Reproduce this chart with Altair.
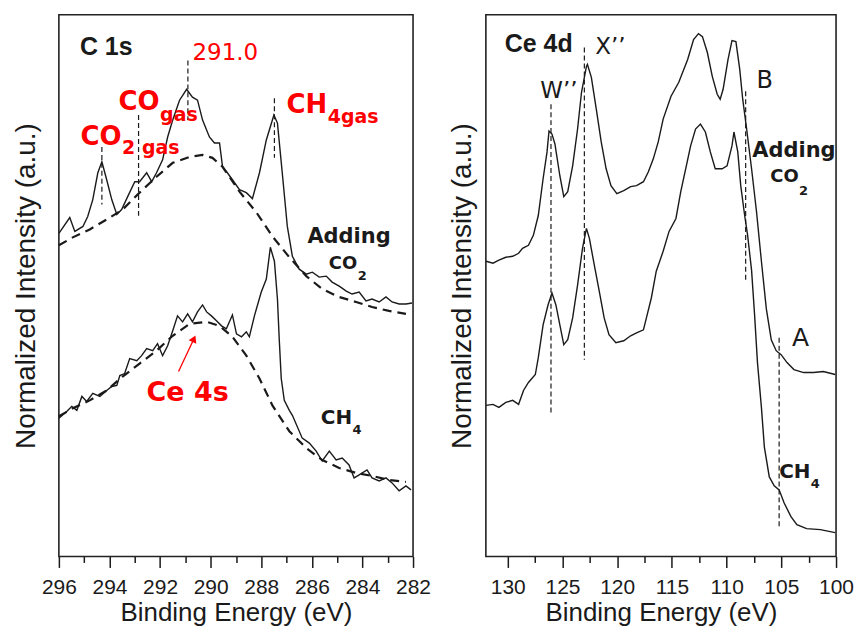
import altair as alt
import pandas as pd

# ---------------- C 1s panel (binding energy eV, normalized intensity a.u.) ----------------
c1s_co2_E = [296.00, 295.57, 295.37, 295.05, 294.86, 294.66, 294.46, 294.30, 294.11, 293.91,
             293.71, 293.52, 293.28, 293.00, 292.81, 292.53, 292.33, 292.14, 291.90, 291.70,
             291.50, 291.23, 290.95, 290.72, 290.52, 290.32, 290.05, 289.85, 289.65, 289.53,
             289.34, 289.14, 288.86, 288.59, 288.35, 288.07, 287.80, 287.50, 287.36, 287.17,
             286.97, 286.77, 286.50, 286.22, 285.98, 285.71, 285.43, 285.20, 284.92, 284.64,
             284.41, 284.13, 283.86, 283.62, 283.34, 283.07, 282.83, 282.55, 282.28, 282.04]
c1s_co2_I = [325, 341, 327, 332, 342, 359, 386, 397, 379, 359,
             344, 349, 362, 377, 377, 386, 377, 386, 399, 422,
             439, 459, 470, 462, 459, 439, 422, 416, 416, 392,
             386, 379, 369, 366, 360, 386, 419, 444, 436, 386,
             332, 302, 289, 284, 286, 281, 282, 276, 272, 267,
             264, 266, 257, 259, 256, 261, 256, 254, 254, 255]

c1s_co2_bg_E = [296.00, 295.45, 294.78, 294.11, 293.48, 292.81, 292.14, 291.50, 290.83, 290.32,
                289.93, 289.53, 288.86, 288.19, 287.56, 286.89, 286.22, 285.59, 284.92, 284.25,
                283.62, 282.95, 282.28]
c1s_co2_bg_I = [313, 321, 329, 339, 349, 366, 382, 396, 402, 404,
                401, 392, 367, 346, 322, 301, 282, 269, 261, 256,
                251, 247, 244]

c1s_ch4_E = [296.00, 295.68, 295.49, 295.29, 295.09, 294.90, 294.66, 294.38, 294.11, 293.91,
             293.71, 293.59, 293.40, 293.20, 292.92, 292.73, 292.53, 292.29, 292.10, 291.90,
             291.70, 291.50, 291.31, 291.11, 290.91, 290.72, 290.52, 290.32, 290.16, 289.97,
             289.77, 289.57, 289.38, 289.14, 288.98, 288.78, 288.59, 288.47, 288.27, 288.00,
             287.80, 287.64, 287.48, 287.36, 287.29, 287.21, 287.09, 286.89, 286.77, 286.38,
             286.10, 285.83, 285.59, 285.31, 285.04, 284.80, 284.53, 284.33, 284.13, 283.82,
             283.62, 283.34, 283.07, 282.83, 282.55, 282.28, 282.08]
c1s_ch4_I = [139, 146, 151, 147, 161, 156, 164, 161, 167, 171,
             172, 182, 184, 199, 197, 202, 209, 207, 214, 202,
             212, 227, 242, 236, 244, 236, 246, 253, 246, 242,
             237, 232, 229, 243, 224, 221, 226, 221, 242, 266,
             279, 311, 297, 259, 219, 179, 157, 147, 142, 119,
             114, 106, 96, 106, 97, 99, 92, 79, 82, 87,
             79, 76, 79, 74, 66, 71, 67]

c1s_ch4_bg_E = [296.00, 295.45, 294.78, 294.11, 293.48, 292.81, 292.14, 291.50, 290.83, 290.16,
                289.65, 289.14, 288.59, 288.07, 287.56, 286.89, 286.22, 285.59, 284.92, 284.25,
                283.62, 282.95, 282.28]
c1s_ch4_bg_I = [141, 149, 157, 167, 181, 194, 207, 222, 234, 236,
                232, 221, 202, 179, 152, 126, 109, 97, 89, 84,
                81, 77, 75]

c1s_ticks = [296, 295, 294, 293, 292, 291, 290, 289, 288, 287, 286, 285, 284, 283, 282]

# peak marker lines (E, top, bottom)
c1s_mark_E = [294.3, 292.85, 290.9, 287.48]
c1s_mark_top = [412, 444, 499, 461]
c1s_mark_bot = [354, 342, 439, 401]

# ---------------- Ce 4d panel ----------------
ce_co2_E = [131.98, 131.35, 130.81, 130.18, 129.55, 129.01, 128.65, 128.11, 127.66, 127.21,
            126.77, 126.41, 126.23, 125.96, 125.69, 125.24, 124.88, 124.52, 124.07, 123.62,
            123.26, 122.81, 122.72, 122.36, 121.91, 121.46, 121.01, 120.57, 120.03, 119.40,
            118.77, 118.23, 117.60, 117.15, 116.70, 116.25, 115.80, 115.08, 114.37, 113.56,
            113.02, 112.57, 112.21, 111.76, 111.31, 110.86, 110.59, 110.32, 109.87, 109.51,
            109.15, 108.80, 108.53, 108.17, 107.72, 107.27, 106.82, 106.37, 105.92, 105.47,
            105.02, 104.48, 103.85, 102.96, 102.06, 101.16, 100.08]
ce_co2_I = [297, 295, 298, 301, 302, 305, 310, 313, 323, 343,
            380, 407, 428, 425, 415, 383, 362, 367, 393, 430,
            467, 493, 495, 482, 450, 417, 390, 373, 365, 368,
            372, 373, 377, 387, 400, 417, 440, 463, 477, 500,
            520, 526, 523, 507, 483, 465, 460, 470, 500, 519,
            518, 490, 460, 430, 390, 347, 297, 249, 218, 207,
            203, 195, 188, 185, 185, 186, 183]

ce_ch4_E = [131.98, 131.35, 130.81, 130.18, 129.55, 129.01, 128.56, 128.11, 127.48, 127.21,
            126.77, 126.32, 125.96, 125.60, 125.24, 124.88, 124.52, 124.07, 123.62, 123.17,
            122.81, 122.54, 122.09, 121.64, 121.19, 120.75, 120.12, 119.40, 118.77, 118.23,
            117.60, 117.33, 116.88, 116.43, 115.80, 115.26, 114.63, 114.19, 113.74, 113.29,
            112.84, 112.39, 111.94, 111.49, 111.04, 110.41, 109.96, 109.51, 109.33, 108.98,
            108.71, 108.35, 108.08, 107.72, 107.45, 107.18, 106.82, 106.55, 106.10, 105.65,
            105.20, 104.75, 104.12, 103.58, 102.69, 101.43, 100.08]
ce_ch4_I = [152, 153, 150, 155, 157, 153, 167, 175, 183, 200,
            233, 253, 265, 253, 233, 213, 218, 240, 273, 310,
            330, 320, 293, 267, 240, 223, 215, 217, 222, 225,
            228, 240, 260, 287, 307, 327, 340, 367, 390, 413,
            430, 435, 427, 407, 390, 390, 393, 413, 427, 407,
            373, 343, 323, 288, 244, 195, 150, 110, 80, 71,
            67, 54, 40, 32, 28, 27, 24]

ce_ticks = [130, 127.5, 125, 122.5, 120, 117.5, 115, 112.5, 110, 107.5, 105, 102.5, 100]

ce_mark_E = [126.05, 123.0, 108.26, 105.2]
ce_mark_top = [455, 512, 468, 220]
ce_mark_bot = [142, 198, 277, 28]

# ---------------- annotation texts ----------------
RED = "#ff0000"
BLK = "#1a1a1a"

c1s_title_txt, c1s_title_E, c1s_title_I = ["C 1s"], [295.17], [512]
c1s_thin_txt, c1s_thin_E, c1s_thin_I, c1s_thin_s = ["291.0"], [290.72], [506], [23]
c1s_main_txt = ["CO", "CO", "CH", "CO", "CH"]
c1s_main_E = [292.02, 293.52, 285.39, 284.21, 284.41]
c1s_main_I = [457, 422, 454, 294, 139]
c1s_main_s = [26, 26, 26, 18, 20]
c1s_main_c = [RED, RED, RED, BLK, BLK]
c1s_sub_txt = ["gas", "2 gas", "4gas", "2", "4"]
c1s_sub_E = [292.0, 293.5, 285.37, 284.19, 284.39]
c1s_sub_I = [444, 411, 442, 282, 127]
c1s_sub_s = [19, 19, 19, 13, 13]
c1s_sub_c = [RED, RED, RED, BLK, BLK]
c1s_ctr_txt = ["Ce 4s", "Adding"]
c1s_ctr_E = [290.91, 284.53]
c1s_ctr_I = [164, 321]
c1s_ctr_s = [27, 21]
c1s_ctr_c = [RED, BLK]
arrow_E, arrow_E2, arrow_I, arrow_I2 = [291.27], [290.66], [186], [219]

ce_title_txt, ce_title_E, ce_title_I = ["Ce 4d"], [130.27], [516]
ce_thin_txt = ["X’’", "W’’", "B", "A"]
ce_thin_E = [122.0, 127.03, 107.27, 104.03]
ce_thin_I = [513, 468, 478, 220]
ce_thin_s = [23, 23, 24, 25]
ce_main_txt, ce_main_E, ce_main_I, ce_main_s = ["CO", "CH"], [103.41, 102.33], [382, 85], [18, 20]
ce_sub_txt, ce_sub_E, ce_sub_I, ce_sub_s = ["2", "4"], [103.39, 102.31], [368, 73], [13, 13]
ce_ctr_txt, ce_ctr_E, ce_ctr_I, ce_ctr_s = ["Adding"], [103.85], [408], [21]

AX_FONT = "Liberation Sans"
ANN_FONT = "DejaVu Sans"


def x_axis(values, step):
    test = f"datum.value % {step} === 0"
    return alt.Axis(
        values=values, title="Binding Energy (eV)", grid=False, domain=False,
        labelExpr=f"{test} ? format(datum.value, 'd') : ''",
        tickSize={"condition": {"test": test, "value": 11}, "value": 6},
        tickColor=BLK, tickWidth=1.5, labelFont=AX_FONT, labelFontSize=21,
        labelColor=BLK, labelPadding=9, labelOverlap=False, labelFlush=False,
        titleFont=AX_FONT, titleFontSize=26, titleFontWeight="normal",
        titleColor=BLK, titlePadding=2)


def y_axis(pad):
    return alt.Axis(title="Normalized Intensity (a.u.)", labels=False, ticks=False,
                    domain=False, grid=False, titleFont=AX_FONT, titleFontSize=28,
                    titleFontWeight="normal", titleColor=BLK, titlePadding=pad)


def curves_df(pairs):
    frames = []
    for name, E, I in pairs:
        frames.append(pd.DataFrame({"E": E, "I": I, "series": name}))
    return pd.concat(frames, ignore_index=True)


def text_layer(xs, ys, txt, E, I, sizes, colors, align, font, weight):
    df = pd.DataFrame({"t": txt, "E": E, "I": I, "s": sizes, "c": colors})
    return alt.Chart(df).mark_text(align=align, baseline="middle", font=font,
                                   fontWeight=weight).encode(
        x=alt.X("E:Q", scale=xs, axis=None),
        y=alt.Y("I:Q", scale=ys, axis=None),
        text="t:N",
        size=alt.Size("s:Q", scale=None),
        color=alt.Color("c:N", scale=None))


def marker_layer(xs, ys, E, top, bot):
    df = pd.DataFrame({"E": E, "top": top, "bot": bot})
    return alt.Chart(df).mark_rule(color=BLK, strokeWidth=1.2, strokeDash=[5, 3]).encode(
        x=alt.X("E:Q", scale=xs, axis=None),
        y=alt.Y("top:Q", scale=ys, axis=None),
        y2="bot:Q")


# ---------------- left panel ----------------
xs1 = alt.Scale(domain=[296, 282], nice=False, zero=False)
ys1 = alt.Scale(domain=[0, 545], nice=False, zero=False)

c1s_lines = alt.Chart(curves_df([("co2", c1s_co2_E, c1s_co2_I),
                                 ("ch4", c1s_ch4_E, c1s_ch4_I)])).mark_line(
    color=BLK, strokeWidth=1.4).encode(
    x=alt.X("E:Q", scale=xs1, axis=x_axis(c1s_ticks, 2)),
    y=alt.Y("I:Q", scale=ys1, axis=y_axis(18)),
    detail="series:N")

c1s_bg = alt.Chart(curves_df([("co2bg", c1s_co2_bg_E, c1s_co2_bg_I),
                              ("ch4bg", c1s_ch4_bg_E, c1s_ch4_bg_I)])).mark_line(
    color=BLK, strokeWidth=2.2, strokeDash=[9, 6]).encode(
    x=alt.X("E:Q", scale=xs1, axis=None),
    y=alt.Y("I:Q", scale=ys1, axis=None),
    detail="series:N")

arrow_df = pd.DataFrame({"E": arrow_E, "E2": arrow_E2, "I": arrow_I, "I2": arrow_I2})
arrow_shaft = alt.Chart(arrow_df).mark_rule(color=RED, strokeWidth=1.3).encode(
    x=alt.X("E:Q", scale=xs1, axis=None), x2="E2:Q",
    y=alt.Y("I:Q", scale=ys1, axis=None), y2="I2:Q")
arrow_head = alt.Chart(arrow_df).mark_point(shape="triangle-up", filled=True, size=70,
                                            angle=24, color=RED, opacity=1).encode(
    x=alt.X("E2:Q", scale=xs1, axis=None),
    y=alt.Y("I2:Q", scale=ys1, axis=None))

left = alt.layer(
    c1s_lines, c1s_bg,
    marker_layer(xs1, ys1, c1s_mark_E, c1s_mark_top, c1s_mark_bot),
    arrow_shaft, arrow_head,
    text_layer(xs1, ys1, c1s_title_txt, c1s_title_E, c1s_title_I, [25], [BLK], "left", AX_FONT, "bold"),
    text_layer(xs1, ys1, c1s_thin_txt, c1s_thin_E, c1s_thin_I, c1s_thin_s, [RED], "left", ANN_FONT, "normal"),
    text_layer(xs1, ys1, c1s_main_txt, c1s_main_E, c1s_main_I, c1s_main_s, c1s_main_c, "right", ANN_FONT, "bold"),
    text_layer(xs1, ys1, c1s_sub_txt, c1s_sub_E, c1s_sub_I, c1s_sub_s, c1s_sub_c, "left", ANN_FONT, "bold"),
    text_layer(xs1, ys1, c1s_ctr_txt, c1s_ctr_E, c1s_ctr_I, c1s_ctr_s, c1s_ctr_c, "center", ANN_FONT, "bold"),
).resolve_axis(x="independent", y="independent").properties(width=355, height=543)

# ---------------- right panel ----------------
xs2 = alt.Scale(domain=[132, 100], nice=False, zero=False)
ys2 = alt.Scale(domain=[0, 545], nice=False, zero=False)

ce_lines = alt.Chart(curves_df([("co2", ce_co2_E, ce_co2_I),
                                ("ch4", ce_ch4_E, ce_ch4_I)])).mark_line(
    color=BLK, strokeWidth=1.4).encode(
    x=alt.X("E:Q", scale=xs2, axis=x_axis(ce_ticks, 5)),
    y=alt.Y("I:Q", scale=ys2, axis=y_axis(9)),
    detail="series:N")

right = alt.layer(
    ce_lines,
    marker_layer(xs2, ys2, ce_mark_E, ce_mark_top, ce_mark_bot),
    text_layer(xs2, ys2, ce_title_txt, ce_title_E, ce_title_I, [25], [BLK], "left", AX_FONT, "bold"),
    text_layer(xs2, ys2, ce_thin_txt, ce_thin_E, ce_thin_I, ce_thin_s, [BLK] * 4, "left", ANN_FONT, "normal"),
    text_layer(xs2, ys2, ce_main_txt, ce_main_E, ce_main_I, ce_main_s, [BLK] * 2, "right", ANN_FONT, "bold"),
    text_layer(xs2, ys2, ce_sub_txt, ce_sub_E, ce_sub_I, ce_sub_s, [BLK] * 2, "left", ANN_FONT, "bold"),
    text_layer(xs2, ys2, ce_ctr_txt, ce_ctr_E, ce_ctr_I, ce_ctr_s, [BLK], "center", ANN_FONT, "bold"),
).resolve_axis(x="independent", y="independent").properties(width=351, height=543)

chart = alt.hconcat(left, right, spacing=16).resolve_scale(
    x="independent", y="independent"
).properties(
    padding={"left": 4, "top": 5, "right": 0, "bottom": 0}, background="white"
).configure_view(stroke="#222222", strokeWidth=1.6)

chart.save("out.html", embed_options={"renderer": "svg", "actions": False})
